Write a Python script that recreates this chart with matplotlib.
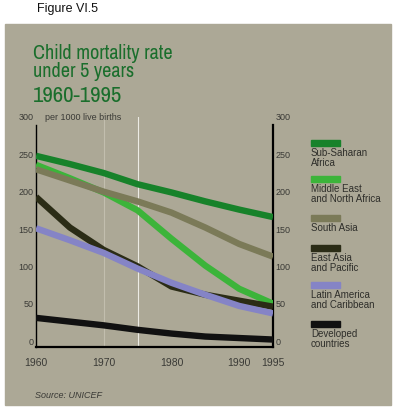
import matplotlib
matplotlib.use("Agg")
import matplotlib.pyplot as plt
from matplotlib.patches import Rectangle

# data (deaths under 5 per 1000 live births)
years = [1960, 1965, 1970, 1975, 1980, 1985, 1990, 1995]
sub_saharan = [248, 237, 225, 210, 199, 187, 176, 166]
middle_east = [236, 218, 199, 175, 137, 101, 70, 50]
south_asia = [230, 215, 200, 187, 172, 152, 130, 113]
east_asia = [193, 152, 122, 100, 73, 62, 54, 46]
latin_america = [151, 135, 118, 97, 78, 62, 47, 37]
developed = [31, 26, 21, 15, 10, 6, 4, 2]

series = [sub_saharan, middle_east, south_asia, east_asia, latin_america, developed]
labels = ["Sub-Saharan\nAfrica", "Middle East\nand North Africa", "South Asia",
          "East Asia\nand Pacific", "Latin America\nand Caribbean", "Developed\ncountries"]
colors = ["#17822a", "#3cb43a", "#7b7a58", "#2b2c16", "#8584c6", "#111111"]

xticks = [1960, 1970, 1980, 1990, 1995]
yticks = [0, 50, 100, 150, 200, 250, 300]

W, H = 397, 412
fig = plt.figure(figsize=(W / 100, H / 100), dpi=100)
fig.patch.set_facecolor("white")

# khaki panel behind everything
fig.patches.append(Rectangle((5 / W, 1 - 405 / H), 386 / W, 381 / H,
                             transform=fig.transFigure, color="#aca896", zorder=-5))

fig.text(37 / W, 1 - 9 / H, "Figure VI.5", fontsize=9, family="Liberation Sans",
         va="center", ha="left", color="#111111")

title_font = ["Archivo Narrow", "Liberation Sans"]
fig.text(33 / W, 1 - 59 / H, "Child mortality rate", fontsize=14.5, family=title_font,
         color="#1a6e2c", va="baseline")
fig.text(33 / W, 1 - 77 / H, "under 5 years", fontsize=14.5, family=title_font,
         color="#1a6e2c", va="baseline")
fig.text(33 / W, 1 - 102 / H, "1960-1995", fontsize=16.5, family=title_font,
         color="#1a6e2c", va="baseline")

ax = fig.add_axes([36 / W, 1 - 347 / H, 237 / W, 230 / H])
ax.set_facecolor("none")

# faint guide lines
ax.axvline(1970, color="#c2beae", lw=0.8, zorder=1)
ax.axvline(1975, color="#ecebe4", lw=0.8, zorder=1)

for vals, c in zip(series, colors):
    ax.plot(years, vals, color=c, lw=4.6, solid_capstyle="butt",
            solid_joinstyle="round", zorder=3)

ax.set_xlim(1960, 1995)
ax.set_ylim(-8, 300)
ax.set_xticks(xticks)
ax.set_yticks(yticks)
ax.tick_params(axis="both", length=0, labelsize=6.5, labelcolor="#3a3a36")
ax.tick_params(axis="x", pad=8, labelsize=7.5)
ax.tick_params(axis="y", pad=2, labelright=True)
for lab in ax.get_xticklabels() + ax.get_yticklabels():
    lab.set_family("Liberation Sans")

ax.spines["top"].set_visible(False)
ax.spines["left"].set_bounds(-8, 289)
ax.spines["right"].set_bounds(-8, 289)
ax.spines["left"].set_linewidth(1.0)
ax.spines["right"].set_linewidth(1.6)
ax.spines["bottom"].set_linewidth(1.6)

fig.text(45 / W, 1 - 117 / H, "per 1000 live births", fontsize=6.5,
         family="Liberation Sans", color="#3a3a36", va="center")

# legend drawn by hand on the right
patch_tops = [140, 176, 215, 245, 282, 321]
for top, lab, c in zip(patch_tops, labels, colors):
    fig.patches.append(Rectangle((311 / W, 1 - (top + 6) / H), 29 / W, 6 / H,
                                 transform=fig.transFigure, color=c, zorder=2))
    fig.text(311 / W, 1 - (top + 8) / H, lab, fontsize=7, family="Liberation Sans",
             color="#2e2e2a", va="top", ha="left", linespacing=1.05)

fig.text(35 / W, 1 - 395 / H, "Source: UNICEF", fontsize=6.5, style="italic",
         family="Liberation Sans", color="#3a3a36", va="center")

fig.savefig("out.png", dpi=100)
